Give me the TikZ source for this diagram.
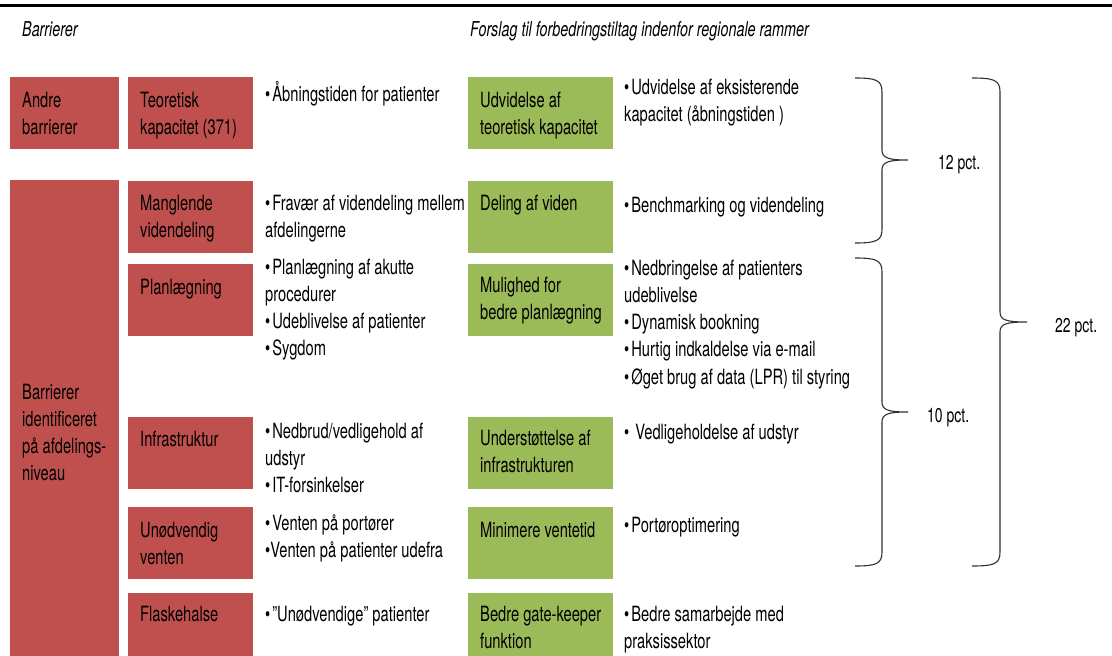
\documentclass[tikz,border=0pt]{standalone}
\usepackage{fontspec}
\setmainfont{TeX Gyre Heros}[FakeStretch=0.70]
\definecolor{boxred}{HTML}{C0504D}
\definecolor{boxgreen}{HTML}{9BBB59}
\definecolor{bracegray}{HTML}{303030}
\newcommand\bul{\textbullet\hspace{2pt}}
\newcommand\ml[1]{\begin{tabular}[t]{@{}l@{}}#1\end{tabular}}
\begin{document}
\begin{tikzpicture}[x=1pt,y=-1pt,
  redbox/.style={fill=boxred, draw=none, anchor=north west, minimum width=125pt, minimum height=72pt, inner sep=0pt},
  narrowred/.style={redbox, minimum width=109pt},
  greenbox/.style={fill=boxgreen, draw=none, anchor=north west, minimum width=145pt, minimum height=72pt, inner sep=0pt},
  boxtext/.style={anchor=base west, inner sep=0pt, font=\fontsize{21}{27.3}\selectfont, text=black},
  head/.style={anchor=base west, inner sep=0pt, font=\fontsize{20.5}{24}\selectfont\itshape, text=black},
  pct/.style={anchor=base west, inner sep=0pt, font=\fontsize{20}{24}\selectfont, text=black},
  bracepath/.style={draw=bracegray, line width=1.1pt}]
\useasboundingbox (0,0) rectangle (1112,656);
\fill[white] (0,0) rectangle (1112,656);
% top rule
\draw[line width=3pt] (0,5) -- (1112,5);
% headers
\node[head] (h1) at (22,36) {Barrierer};
\node[head] (h2) at (470,36) {Forslag til forbedringstiltag indenfor regionale rammer};
% red boxes
\node[narrowred] (andre) at (10,77) {};
\node[boxtext] (andreT) at (22,107) {\ml{Andre\\barrierer}};
\node[narrowred, minimum height=520pt] (big) at (10,180) {};
\node[boxtext] (bigT) at (22,399) {\ml{Barrierer\\identificeret\\på afdelings-\\niveau}};
\node[redbox] (r0) at (128,77) {};
\node[boxtext] (r0T) at (140,107) {\ml{Teoretisk\\kapacitet (371)}};
\node[redbox] (r1) at (128,181) {};
\node[boxtext] (r1T) at (140,210) {\ml{Manglende\\videndeling}};
\node[redbox] (r2) at (128,264) {};
\node[boxtext] (r2T) at (140,294) {Planlægning};
\node[redbox] (r3) at (128,417) {};
\node[boxtext] (r3T) at (140,446) {Infrastruktur};
\node[redbox] (r4) at (128,507) {};
\node[boxtext] (r4T) at (140,537) {\ml{Unødvendig\\venten}};
\node[redbox] (r5) at (128,593) {};
\node[boxtext] (r5T) at (140,621) {Flaskehalse};
% barrier lists
\node[boxtext] (b0) at (265,101) {\bul Åbningstiden for patienter};
\node[boxtext] (b1) at (265,210) {\ml{\bul Fravær af videndeling mellem\\afdelingerne}};
\node[boxtext] (b2) at (265,274) {\ml{\bul Planlægning af akutte\\procedurer\\\bul Udeblivelse af patienter\\\bul Sygdom}};
\node[boxtext] (b3) at (265,438) {\ml{\bul Nedbrud/vedligehold af\\udstyr\\\bul IT-forsinkelser}};
\node[boxtext] (b4) at (265,530) {\ml{\bul Venten på portører\\\textbullet Venten på patienter udefra}};
\node[boxtext] (b5) at (265,621) {\bul "Unødvendige" patienter};
% green boxes
\node[greenbox] (g0) at (468,77) {};
\node[boxtext] (g0T) at (480,107) {\ml{Udvidelse af\\teoretisk kapacitet}};
\node[greenbox] (g1) at (468,181) {};
\node[boxtext] (g1T) at (480,210) {Deling af viden};
\node[greenbox] (g2) at (468,264) {};
\node[boxtext] (g2T) at (480,292) {\ml{Mulighed for\\bedre planlægning}};
\node[greenbox] (g3) at (468,417) {};
\node[boxtext] (g3T) at (480,445) {\ml{Understøttelse af\\infrastrukturen}};
\node[greenbox] (g4) at (468,507) {};
\node[boxtext] (g4T) at (480,537) {Minimere ventetid};
\node[greenbox] (g5) at (468,593) {};
\node[boxtext] (g5T) at (480,621) {\ml{Bedre gate-keeper\\funktion}};
% proposal lists
\node[boxtext] (p0) at (624,94) {\ml{\bul Udvidelse af eksisterende\\kapacitet (åbningstiden )}};
\node[boxtext] (p1) at (624,212) {\bul Benchmarking og videndeling};
\node[boxtext] (p2) at (624,275) {\ml{\bul Nedbringelse af patienters\\udeblivelse\\\bul Dynamisk bookning\\\bul Hurtig indkaldelse via e-mail\\\bul Øget brug af data (LPR) til styring}};
\node[boxtext] (p3) at (624,439) {\textbullet\hspace{6pt}Vedligeholdelse af udstyr};
\node[boxtext] (p4) at (624,532) {\bul Portøroptimering};
\node[boxtext] (p5) at (624,621) {\ml{\bul Bedre samarbejde med\\praksissektor}};
% braces
\draw[bracepath] (855,78) .. controls (876,78) and (882,80) .. (882,92) -- (882,150) .. controls (882,158) and (888,160) .. (908,160) .. controls (888,160) and (882,162) .. (882,170) -- (882,229) .. controls (882,241) and (876,243) .. (855,243);
\draw[bracepath] (855,258) .. controls (876,258) and (882,260) .. (882,272) -- (882,402) .. controls (882,410) and (888,412) .. (908,412) .. controls (888,412) and (882,414) .. (882,422) -- (882,552) .. controls (882,564) and (876,566) .. (855,566);
\draw[bracepath] (972,78) .. controls (994,78) and (1000,80) .. (1000,92) -- (1000,312) .. controls (1000,320) and (1006,322) .. (1027,322) .. controls (1006,322) and (1000,324) .. (1000,332) -- (1000,552) .. controls (1000,564) and (994,566) .. (972,566);
\node[pct] (l12) at (938,169) {12 pct.};
\node[pct] (l10) at (927,422) {10 pct.};
\node[pct] (l22) at (1055,332) {22 pct.};
\end{tikzpicture}
\end{document}
